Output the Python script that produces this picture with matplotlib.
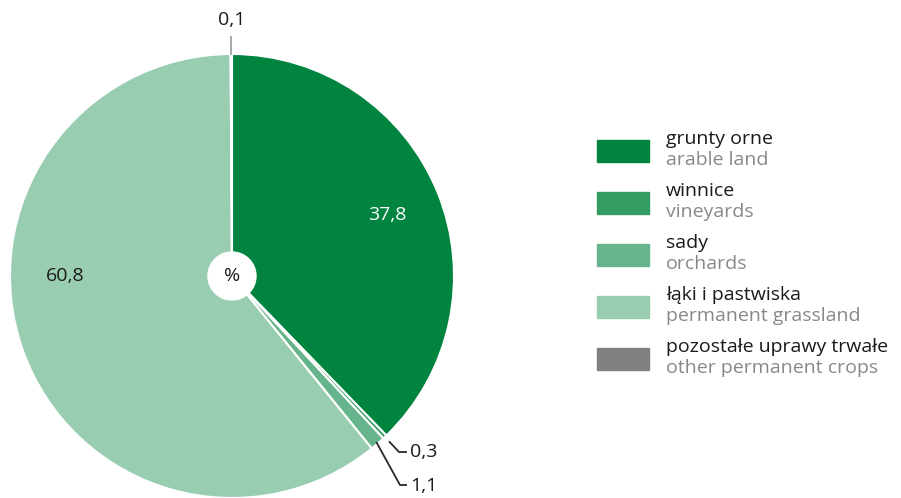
import numpy as np
import matplotlib
matplotlib.use('Agg')
import matplotlib.pyplot as plt
from matplotlib.patches import Rectangle, Circle

plt.rcParams['font.family'] = ['Open Sans', 'DejaVu Sans']

# data
labels_pl = ['grunty orne', 'winnice', 'sady', 'łąki i pastwiska', 'pozostałe uprawy trwałe']
labels_en = ['arable land', 'vineyards', 'orchards', 'permanent grassland', 'other permanent crops']
values = [37.8, 0.3, 1.1, 60.8, 0.1]
value_txt = ['37,8', '0,3', '1,1', '60,8', '0,1']
colors = ['#00843f', '#339c62', '#66b48b', '#99cdb1', '#878787']

W, H = 901, 498
fig = plt.figure(figsize=(W / 100, H / 100), dpi=100)
ax = fig.add_axes([0, 0, 1, 1])

cx, cy, R = 232, H - 276, 222
fs = 14

wedges, _ = ax.pie(values, colors=colors, startangle=90, counterclock=False,
                   center=(cx, cy), radius=R,
                   wedgeprops=dict(edgecolor='white', linewidth=1.5))
ax.add_patch(Circle((cx, cy), 24, color='white', zorder=5))
ax.text(cx, cy, '%', ha='center', va='center', fontsize=fs, color='#1a1a1a', zorder=6)

ax.set_xlim(0, W)
ax.set_ylim(0, H)
ax.set_aspect('equal')
ax.axis('off')

# labels inside
ax.text(387, H - 215, value_txt[0], ha='center', va='center', fontsize=fs, color='white')
ax.text(65, H - 276, value_txt[3], ha='center', va='center', fontsize=fs, color='#1a1a1a')

# small slices: leader lines
cum = np.cumsum([0] + values) / sum(values)
def edge(i, r):
    mid = (cum[i] + cum[i + 1]) / 2
    a = np.deg2rad(90 - 360 * mid)
    return cx + r * np.cos(a), cy + r * np.sin(a)

x0, y0 = edge(1, R + 6)
ax.plot([x0, 399, 407], [y0, H - 452, H - 452], color='#2a2a2a', lw=1.3, solid_capstyle='butt')
ax.text(410, H - 452, value_txt[1], ha='left', va='center', fontsize=fs, color='#1a1a1a')

x1, y1 = edge(2, R - 2)
ax.plot([x1, 400, 407], [y1, H - 485, H - 485], color='#2a2a2a', lw=1.3, solid_capstyle='butt')
ax.text(410, H - 486, value_txt[2], ha='left', va='center', fontsize=fs, color='#1a1a1a')

x4, y4 = edge(4, R)
ax.plot([x4, x4], [y4, H - 37], color='#999999', lw=1.2)
ax.text(x4, H - 20, value_txt[4], ha='center', va='center', fontsize=fs, color='#1a1a1a')

# legend
for i in range(len(labels_pl)):
    top = 140 + 52 * i
    ax.add_patch(Rectangle((597, H - top - 22), 52, 22, color=colors[i] if i != 4 else '#808080'))
    ax.text(666, H - top + 1, labels_pl[i], ha='left', va='center', fontsize=fs, color='#1a1a1a')
    ax.text(666, H - top - 20, labels_en[i], ha='left', va='center', fontsize=fs, color='#888888')

fig.savefig('out.png', dpi=100)
